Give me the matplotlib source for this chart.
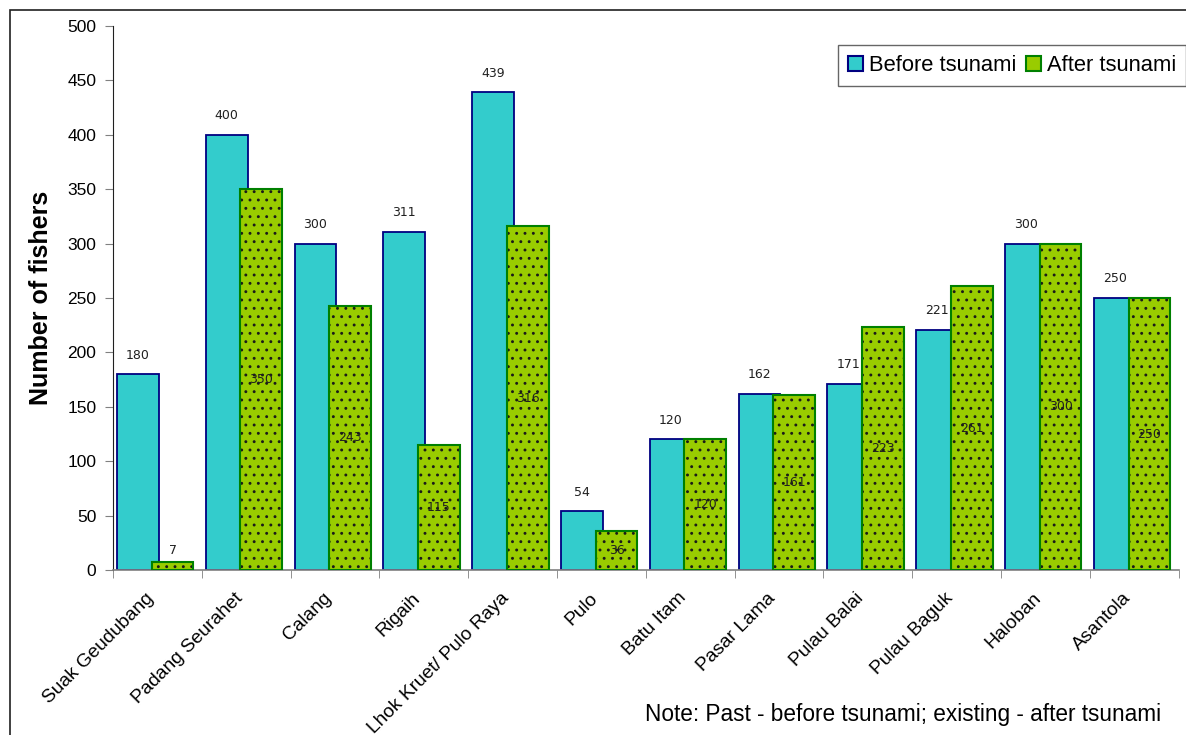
import matplotlib
matplotlib.use("Agg")
import matplotlib.pyplot as plt
import matplotlib.patches as mpatches
import numpy as np

# data
sites = ["Suak Geudubang", "Padang Seurahet", "Calang", "Rigaih", "Lhok Kruet/ Pulo Raya",
         "Pulo", "Batu Itam", "Pasar Lama", "Pulau Balai", "Pulau Baguk", "Haloban", "Asantola"]
before = [180, 400, 300, 311, 439, 54, 120, 162, 171, 221, 300, 250]
after = [7, 350, 243, 115, 316, 36, 120, 161, 223, 261, 300, 250]
before_labels = ["180", "400", "300", "311", "439", "54", "120", "162", "171", "221", "300", "250"]
after_labels = ["7", "350", "243", "115", "316", "36", "120", "161", "223", "261", "300", "250"]

BLUE = "#33CCCC"
BLUE_EDGE = "#000080"
GREEN = "#99CC00"
GREEN_EDGE = "#008000"

plt.rcParams["font.family"] = ["Liberation Sans", "DejaVu Sans"]
plt.rcParams["hatch.linewidth"] = 0.9

fig = plt.figure(figsize=(11.86, 7.35), dpi=100)
ax = fig.add_axes([113 / 1186, 1 - 570 / 735, (1178.7 - 113) / 1186, 544 / 735])

x = np.arange(len(sites))
w = 0.47
xb = x + 0.045 + w / 2
xa = x + 0.435 + w / 2

ax.bar(xb, before, width=w, color=BLUE, edgecolor=BLUE_EDGE, linewidth=1.3, zorder=2)
# green bars: fill + dark dots, then green outline on top
ax.bar(xa, after, width=w, color=GREEN, edgecolor="#1a1a1a", hatch="..", linewidth=0, zorder=3)
ax.bar(xa, after, width=w, fill=False, edgecolor=GREEN_EDGE, linewidth=1.5, zorder=4)

lab_font = dict(family="DejaVu Sans", fontsize=9, color="#202020")
for xi, v, s in zip(xb, before, before_labels):
    ax.annotate(s, (xi, v), xytext=(0, 9), textcoords="offset points",
                ha="center", va="bottom", **lab_font)
for xi, v, s in zip(xa, after, after_labels):
    if v < 20:
        ax.annotate(s, (xi, v), xytext=(0, 4), textcoords="offset points",
                    ha="center", va="bottom", zorder=5, **lab_font)
    else:
        ax.text(xi, v / 2, s, ha="center", va="center", zorder=5, **lab_font)

ax.set_xlim(0, len(sites))
ax.set_ylim(0, 500)
ax.set_yticks(np.arange(0, 501, 50))
# label anchors sit a little left of the category centre, like the original
ax.set_xticks(x + 0.36)
ax.set_xticklabels(sites, rotation=45, ha="right", rotation_mode="anchor", fontsize=13.8)
ax.set_xticks(np.arange(0, len(sites) + 1), minor=True)
ax.tick_params(axis="x", which="major", length=0, pad=14)
ax.tick_params(axis="x", which="minor", length=6, color="#808080", direction="out")
ax.tick_params(axis="y", length=6, color="#808080", direction="out", labelsize=12.5, pad=6)

for side in ("top", "right"):
    ax.spines[side].set_visible(False)
ax.spines["left"].set_color("#202020")
ax.spines["bottom"].set_color("#808080")
ax.spines["bottom"].set_linewidth(1.2)

ax.set_ylabel("Number of fishers", fontsize=18, fontweight="bold", labelpad=10)

h_before = mpatches.Patch(facecolor=BLUE, edgecolor=BLUE_EDGE, linewidth=1.5)
h_after = mpatches.Patch(facecolor=GREEN, edgecolor=GREEN_EDGE, linewidth=1.5)
leg = fig.legend([h_before, h_after], ["Before tsunami", "After tsunami"], ncol=2,
                 loc="upper left", bbox_to_anchor=(838 / 1186, 1 - 45 / 735),
                 fontsize=15.8, frameon=True, fancybox=False, handlelength=0.7,
                 handleheight=0.7, handletextpad=0.25, columnspacing=0.45,
                 borderpad=0.45, borderaxespad=0)
leg.get_frame().set_edgecolor("#404040")
leg.get_frame().set_linewidth(1.0)

fig.text(645 / 1186, 1 - 714 / 735, "Note: Past - before tsunami; existing - after tsunami",
         fontsize=16.3, ha="left", va="center")

# outer chart-area border
fig.patches.append(mpatches.Rectangle((9.5 / 1186, -0.05), 1.1, 1.05 - 9.5 / 735,
                                      transform=fig.transFigure, fill=False,
                                      edgecolor="#202020", linewidth=1.2))

fig.savefig("out.png", dpi=100)
